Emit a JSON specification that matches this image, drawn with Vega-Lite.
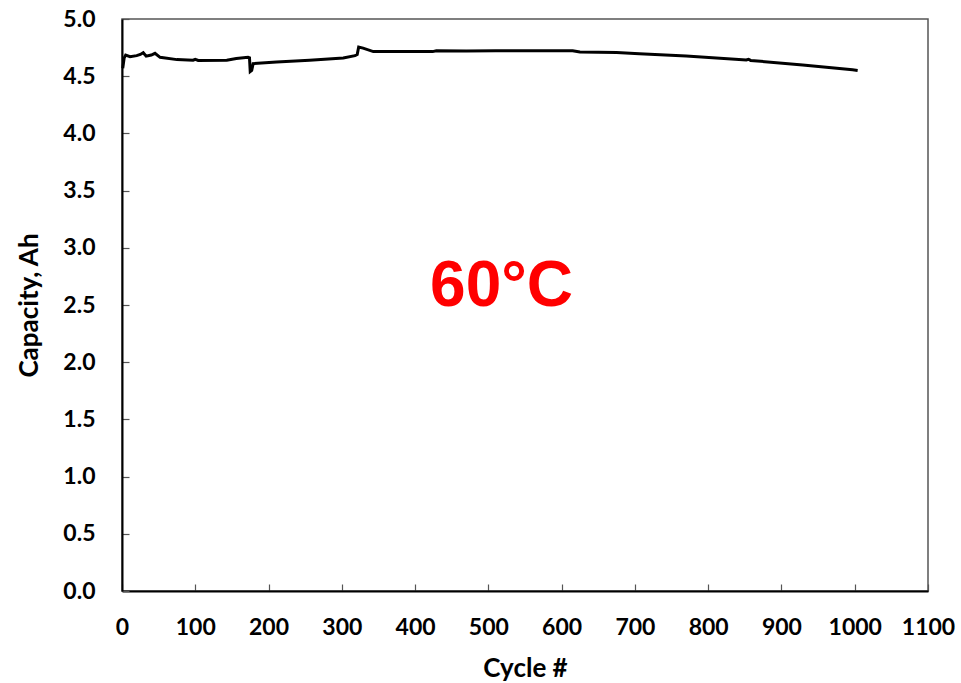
{
  "$schema": "https://vega.github.io/schema/vega-lite/v6.json",
  "autosize": "none",
  "width": 806,
  "height": 572,
  "padding": {"left": 122, "top": 19, "right": 33, "bottom": 92},
  "background": "white",
  "config": {
    "view": {"stroke": "#555555", "strokeWidth": 1.5},
    "font": "Lato",
    "axis": {
      "grid": false,
      "domainColor": "black",
      "domainWidth": 2,
      "tickColor": "#555555",
      "tickWidth": 1.2,
      "tickSize": -7,
      "labelFont": "Lato",
      "labelFontWeight": "bold",
      "labelFontSize": 23,
      "labelColor": "black",
      "titleFont": "Lato",
      "titleFontWeight": "bold",
      "titleFontSize": 26,
      "titleColor": "black"
    }
  },
  "datasets": {
    "cap": [
      {"cycle": 1, "capacity": 4.57},
      {"cycle": 3, "capacity": 4.66},
      {"cycle": 5, "capacity": 4.685},
      {"cycle": 11, "capacity": 4.67},
      {"cycle": 20, "capacity": 4.68},
      {"cycle": 25, "capacity": 4.69},
      {"cycle": 29, "capacity": 4.705},
      {"cycle": 33, "capacity": 4.675},
      {"cycle": 40, "capacity": 4.685},
      {"cycle": 45, "capacity": 4.70},
      {"cycle": 52, "capacity": 4.665},
      {"cycle": 75, "capacity": 4.645},
      {"cycle": 97, "capacity": 4.64},
      {"cycle": 100, "capacity": 4.648},
      {"cycle": 104, "capacity": 4.638},
      {"cycle": 143, "capacity": 4.64},
      {"cycle": 156, "capacity": 4.655},
      {"cycle": 172, "capacity": 4.665},
      {"cycle": 174, "capacity": 4.66},
      {"cycle": 175, "capacity": 4.54},
      {"cycle": 177, "capacity": 4.55},
      {"cycle": 179, "capacity": 4.61},
      {"cycle": 211, "capacity": 4.625},
      {"cycle": 256, "capacity": 4.64},
      {"cycle": 302, "capacity": 4.66},
      {"cycle": 318, "capacity": 4.68},
      {"cycle": 321, "capacity": 4.69},
      {"cycle": 323, "capacity": 4.755},
      {"cycle": 329, "capacity": 4.745},
      {"cycle": 343, "capacity": 4.715},
      {"cycle": 424, "capacity": 4.715},
      {"cycle": 429, "capacity": 4.722},
      {"cycle": 470, "capacity": 4.72},
      {"cycle": 510, "capacity": 4.722},
      {"cycle": 615, "capacity": 4.722},
      {"cycle": 625, "capacity": 4.712},
      {"cycle": 675, "capacity": 4.708},
      {"cycle": 706, "capacity": 4.696},
      {"cycle": 770, "capacity": 4.677},
      {"cycle": 852, "capacity": 4.642},
      {"cycle": 855, "capacity": 4.648},
      {"cycle": 858, "capacity": 4.638},
      {"cycle": 929, "capacity": 4.598},
      {"cycle": 997, "capacity": 4.556},
      {"cycle": 1004, "capacity": 4.55}
    ],
    "label": [
      {"cycle": 518, "capacity": 2.66, "text": "60°C"}
    ]
  },
  "layer": [
    {
      "data": {"name": "cap"},
      "mark": {"type": "line", "color": "black", "strokeWidth": 3, "interpolate": "linear"},
      "encoding": {
        "x": {
          "field": "cycle", "type": "quantitative",
          "scale": {"domain": [0, 1100], "nice": false, "zero": false},
          "axis": {"title": "Cycle #", "format": "d", "values": [0,100,200,300,400,500,600,700,800,900,1000,1100], "labelPadding": 32, "titlePadding": 16, "labelFlush": false}
        },
        "y": {
          "field": "capacity", "type": "quantitative",
          "scale": {"domain": [0, 5], "nice": false},
          "axis": {"title": "Capacity, Ah", "values": [0,0.5,1,1.5,2,2.5,3,3.5,4,4.5,5], "format": ".1f", "labelPadding": 34, "titlePadding": 20, "labelFlush": false}
        }
      }
    },
    {
      "data": {"name": "label"},
      "mark": {"type": "text", "font": "Liberation Sans", "fontWeight": "bold", "fontSize": 64, "color": "#FF0000", "baseline": "middle", "align": "center"},
      "encoding": {
        "x": {"field": "cycle", "type": "quantitative"},
        "y": {"field": "capacity", "type": "quantitative"},
        "text": {"field": "text"}
      }
    }
  ]
}
